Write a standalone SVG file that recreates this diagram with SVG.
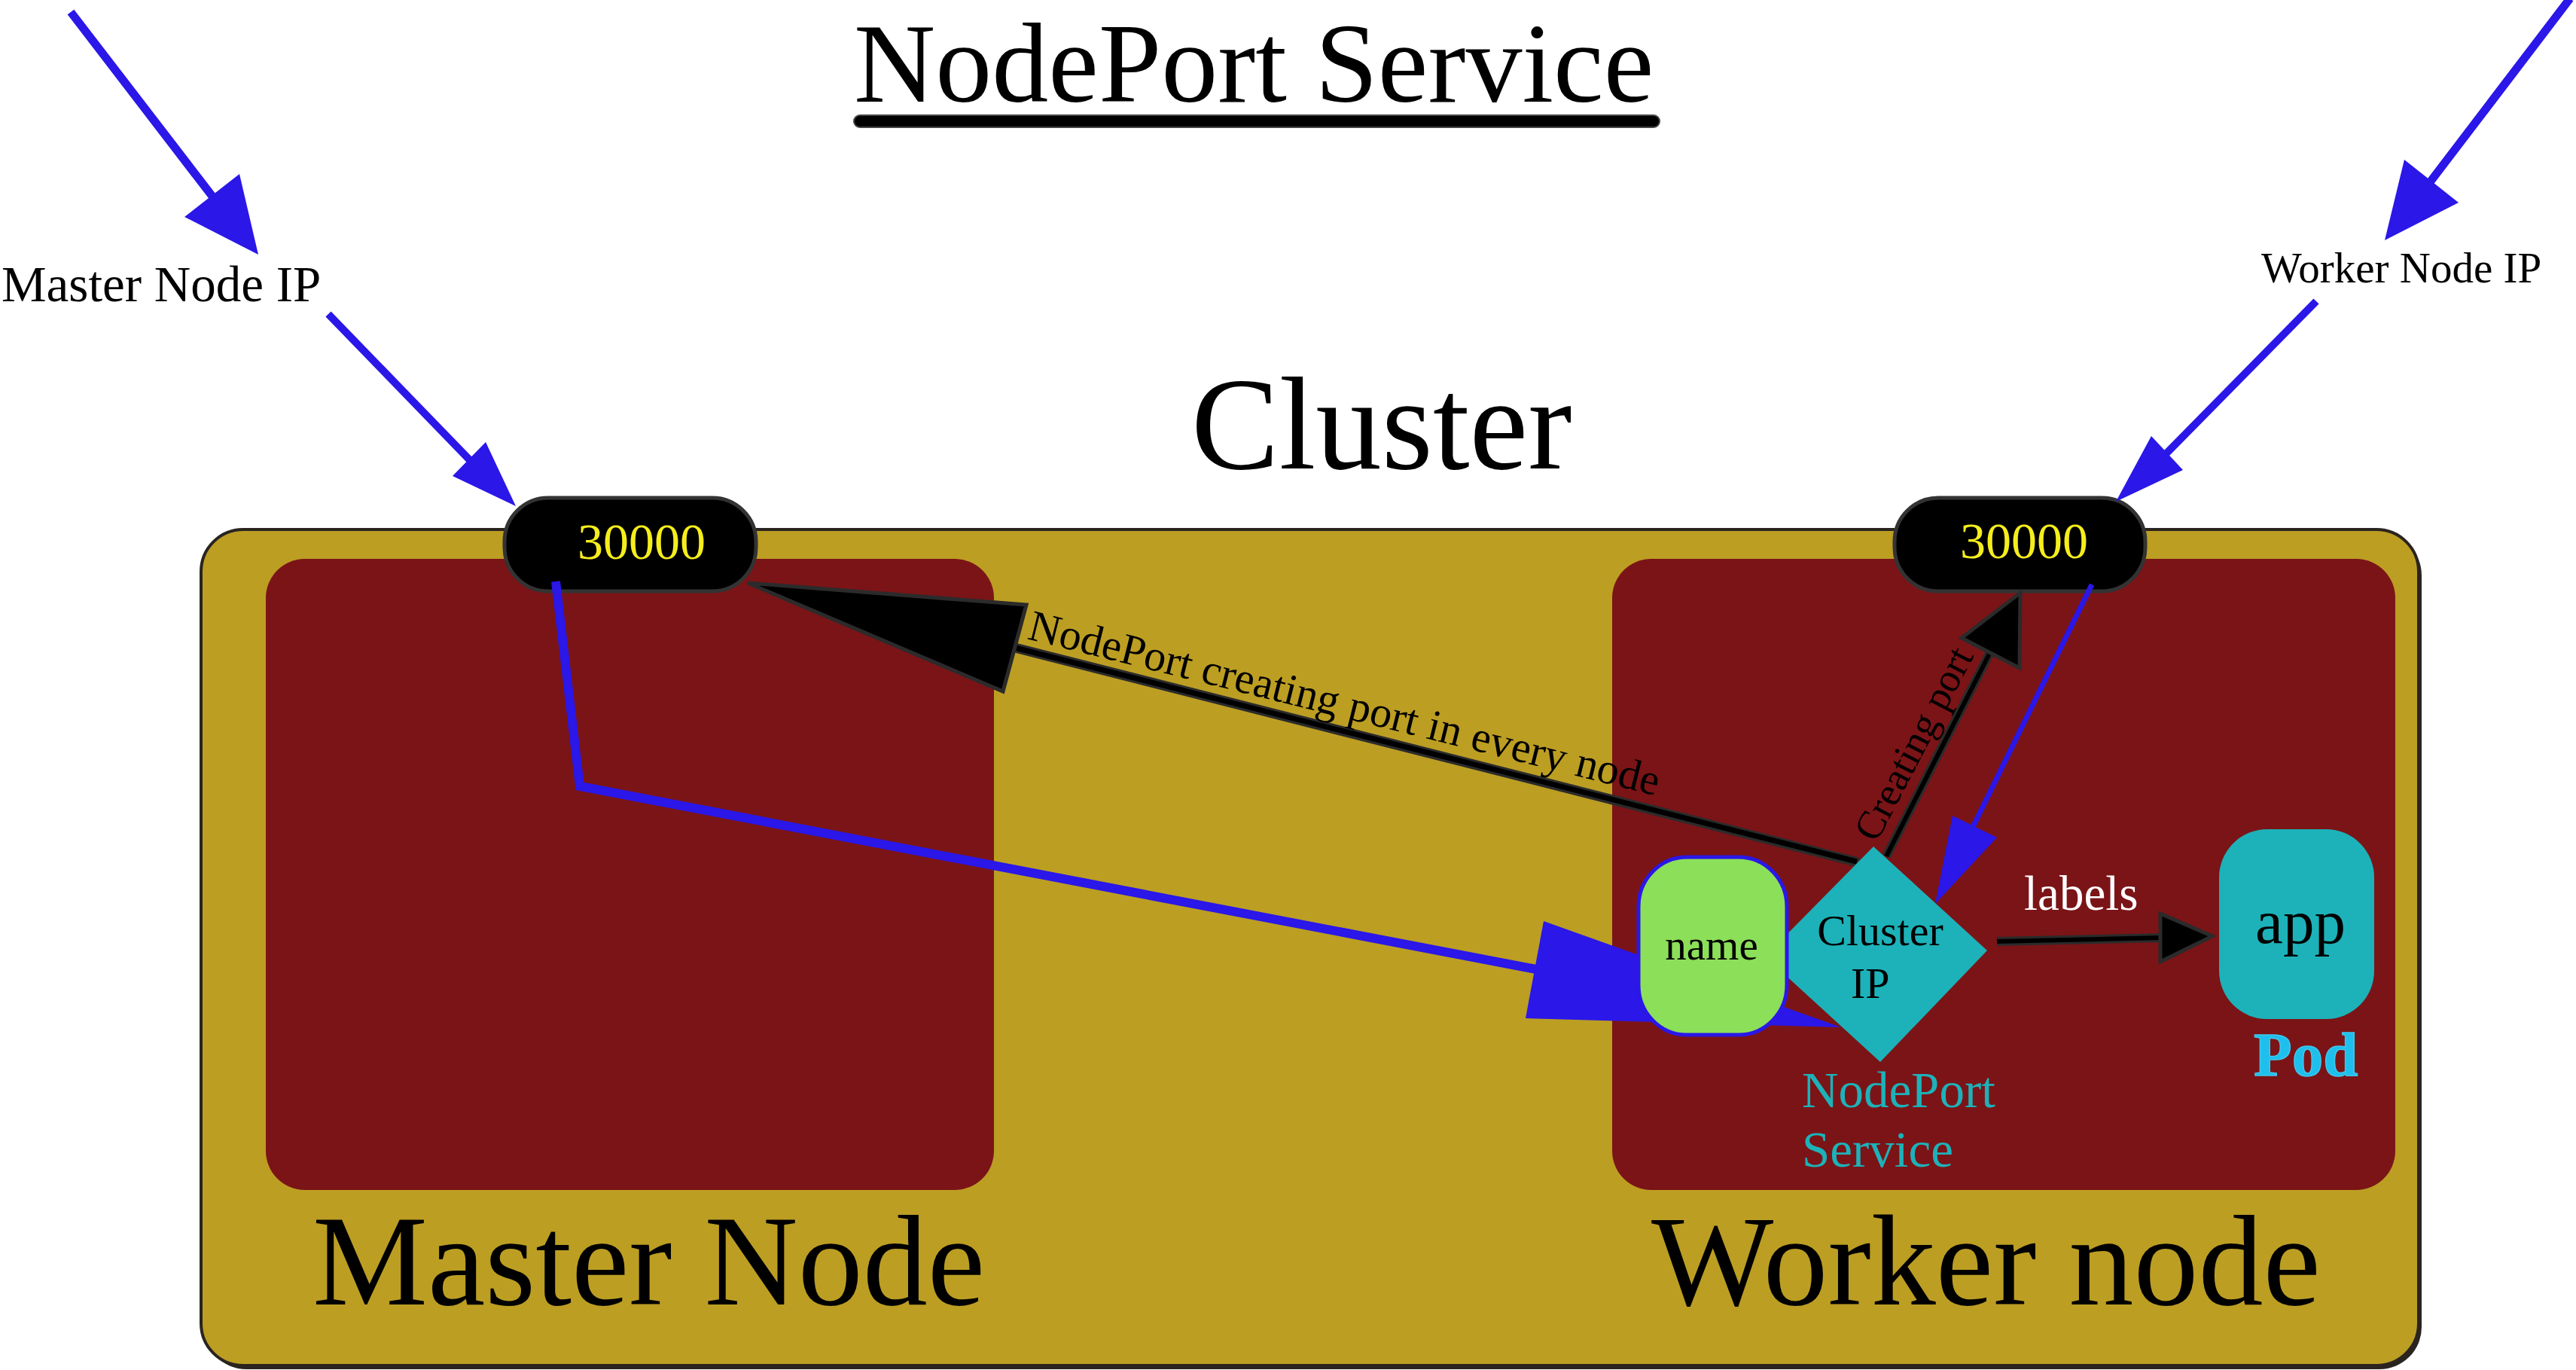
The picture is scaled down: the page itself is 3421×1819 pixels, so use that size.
<svg xmlns="http://www.w3.org/2000/svg" width="3421" height="1819" viewBox="0 0 3421 1819">
<style>
  text { font-family: "Liberation Serif", "Times New Roman", serif; }
  .blk { fill: #000000; }
  .port { fill: #000000; stroke: #333333; stroke-width: 5; }
  .porttxt { fill: #F5EE1C; font-size: 68px; text-anchor: middle; }
  .host { fill: #7B1417; }
  .blue { stroke: #2A17E8; fill: none; stroke-linejoin: miter; }
  .bhead { fill: #2A17E8; }
  .kout { stroke: #2B2B2B; fill: none; }
  .kin { stroke: #000000; fill: none; }
  .khead { fill: #000000; stroke: #2B2B2B; stroke-width: 5; stroke-linejoin: miter; }
  .teal { fill: #1DB2B9; }
</style>

<g id="title">
  <text x="1134" y="135" font-size="150" class="blk">NodePort Service</text>
  <rect x="1134" y="153" width="1070" height="16" rx="8" fill="#000" stroke="#444" stroke-width="2"/>
</g>

<g id="cluster">
  <rect x="271" y="708" width="2945" height="1110" rx="56" fill="#2A2420"/>
  <rect x="267" y="703" width="2945" height="1110" rx="56" fill="#BC9E23" stroke="#2A2420" stroke-width="4"/>
  <text x="1582" y="622" font-size="175" class="blk">Cluster</text>
</g>

<g id="master-node">
  <rect x="353" y="742" width="967" height="838" rx="52" class="host"/>
  <text x="415" y="1732" font-size="172" class="blk">Master Node</text>
</g>

<g id="worker-node">
  <rect x="2141" y="742" width="1040" height="838" rx="52" class="host"/>
  <text x="2193" y="1732" font-size="172" class="blk">Worker node</text>
</g>

<g id="master-ip-label">
  <text x="2" y="400" font-size="67" class="blk">Master Node IP</text>
</g>
<g id="worker-ip-label">
  <text x="3003" y="375" font-size="57" class="blk">Worker Node IP</text>
</g>

<g id="master-port">
  <rect x="670" y="661" width="334" height="124" rx="58" ry="58" class="port"/>
  <text x="852" y="742" class="porttxt">30000</text>
</g>
<g id="worker-port">
  <rect x="2516" y="661" width="333" height="124" rx="58" ry="58" class="port"/>
  <text x="2688" y="741" class="porttxt">30000</text>
</g>

<g id="connectors">
  <!-- external IP arrows -->
  <line x1="94" y1="16" x2="283" y2="262" class="blue" stroke-width="11"/>
  <polygon points="318,231 245,288 343,338" class="bhead"/>
  <line x1="436" y1="417" x2="625" y2="612" class="blue" stroke-width="10"/>
  <polygon points="645,587 601,632 685,672" class="bhead"/>
  <line x1="3413" y1="-2" x2="3227" y2="242" class="blue" stroke-width="11"/>
  <polygon points="3193,212 3265,269 3167,319" class="bhead"/>
  <line x1="3076" y1="400" x2="2876" y2="603" class="blue" stroke-width="10"/>
  <polygon points="2857,579 2899,624 2810,666" class="bhead"/>

  <!-- master port to name -->
  <polyline points="738,772 770,1044 2040,1287" class="blue" stroke-width="12"/>
  <polygon points="2050,1223 2026,1352 2445,1364" class="bhead"/>

  <!-- worker port to cluster ip -->
  <line x1="2778" y1="776" x2="2619" y2="1100" class="blue" stroke-width="7"/>
  <polygon points="2593,1083 2652,1112 2570,1200" class="bhead"/>

  <!-- NodePort creating port in every node -->
  <line x1="1348" y1="860" x2="2468" y2="1145" class="kout" stroke-width="13"/>
  <line x1="1348" y1="860" x2="2466" y2="1144" class="kin" stroke-width="7"/>
  <polygon points="993,774 1363,803 1332,918" class="khead"/>
  <text x="1363" y="848" font-size="58" class="blk" transform="rotate(14 1363 848)">NodePort creating port in every node</text>

  <!-- Creating port -->
  <line x1="2505" y1="1137" x2="2644" y2="864" class="kout" stroke-width="12"/>
  <line x1="2505" y1="1137" x2="2644" y2="864" class="kin" stroke-width="6"/>
  <polygon points="2605,847 2682,887 2683,787" class="khead"/>
  <text x="2492" y="1120" font-size="53" class="blk" transform="rotate(-62.5 2492 1120)">Creating port</text>

  <!-- labels -->
  <line x1="2652" y1="1250" x2="2872" y2="1245" class="kout" stroke-width="12"/>
  <line x1="2652" y1="1250" x2="2872" y2="1245" class="kin" stroke-width="6"/>
  <polygon points="2869,1213 2869,1277 2938,1243" class="khead"/>
  <text x="2688" y="1208" font-size="65" fill="#FFFFFF">labels</text>
</g>

<g id="cluster-ip">
  <polygon points="2488,1124 2639,1262 2497,1410 2344,1270" class="teal"/>
  <text x="2497" y="1255" font-size="58" text-anchor="middle" class="blk">Cluster</text>
  <text x="2458" y="1325" font-size="58" class="blk">IP</text>
  <text x="2393" y="1470" font-size="67" fill="#1DB2B9">NodePort</text>
  <text x="2393" y="1549" font-size="67" fill="#1DB2B9">Service</text>
</g>

<g id="name">
  <rect x="2176" y="1138" width="197" height="236" rx="64" ry="66" fill="#8CDF59" stroke="#2A17E8" stroke-width="5"/>
  <text x="2273" y="1274" font-size="57" text-anchor="middle" class="blk">name</text>
</g>

<g id="pod">
  <rect x="2947" y="1101" width="206" height="252" rx="64" ry="64" class="teal"/>
  <text x="3055" y="1252" font-size="83" text-anchor="middle" class="blk">app</text>
  <text x="2993" y="1428" font-size="83" font-weight="bold" fill="#1EBFEC" stroke="#3FC8EE" stroke-width="1.5">Pod</text>
</g>
</svg>
